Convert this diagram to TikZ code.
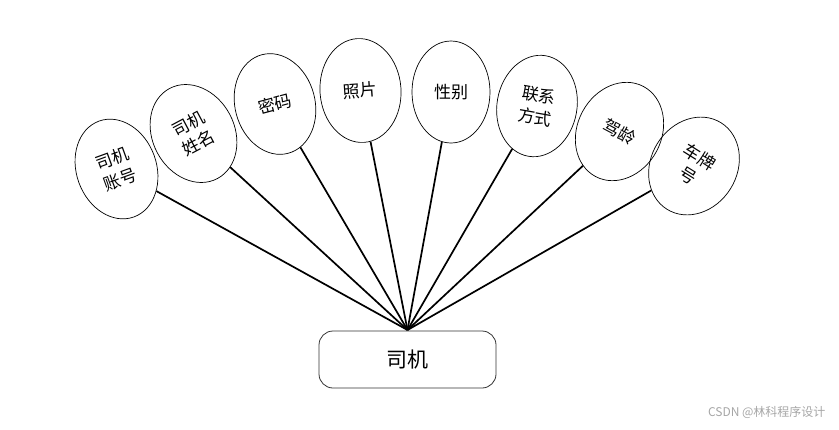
\documentclass[tikz,border=0pt]{standalone}
\usepackage{fontspec}
\newfontfamily\cjk{Noto Sans CJK SC}
\usetikzlibrary{shapes.geometric}
\begin{document}
\begin{tikzpicture}[x=1pt,y=1pt,
  attr/.style={draw=black,line width=0.7pt,ellipse,inner sep=0pt,minimum width=80pt,minimum height=102pt,font=\cjk\fontsize{17}{22}\selectfont,align=center},
  link/.style={draw=black,line width=1.7pt},
  ent/.style={draw=black!80,line width=0.8pt,rounded corners=14pt,minimum width=177pt,minimum height=57pt,font=\cjk\fontsize{21}{25}\selectfont}]
\useasboundingbox (0,0) rectangle (839,-429);
\node[ent] (e) at (407.5,-359.5) {司机};
\coordinate (hub) at (407.5,-330);
\node[attr,rotate=20] (a1) at (116.5,-169) {司机\\账号};
\node[attr,rotate=28,minimum width=82pt] (a2) at (193.5,-133.5) {司机\\姓名};
\node[attr,rotate=15] (a3) at (275,-104) {密码};
\node[attr,rotate=4,minimum width=81pt,minimum height=104pt] (a4) at (360.5,-90.5) {照片};
\node[attr,rotate=0,minimum width=78pt] (a5) at (451,-92) {性别};
\node[attr,rotate=-10] (a6) at (537,-106) {联系\\方式};
\node[attr,rotate=-28,minimum width=84pt] (a7) at (619.5,-131.5) {驾龄};
\node[attr,rotate=-32,minimum width=86pt] (a8) at (694,-166) {车牌\\号};
\foreach \n in {a1,a2,a3,a4,a5,a6,a7,a8} \draw[link] (hub) -- (\n);
\node[text=black!35,font=\cjk\fontsize{12}{14}\selectfont,anchor=east] (wm) at (829,-412) {CSDN @林科程序设计};
\end{tikzpicture}
\end{document}
